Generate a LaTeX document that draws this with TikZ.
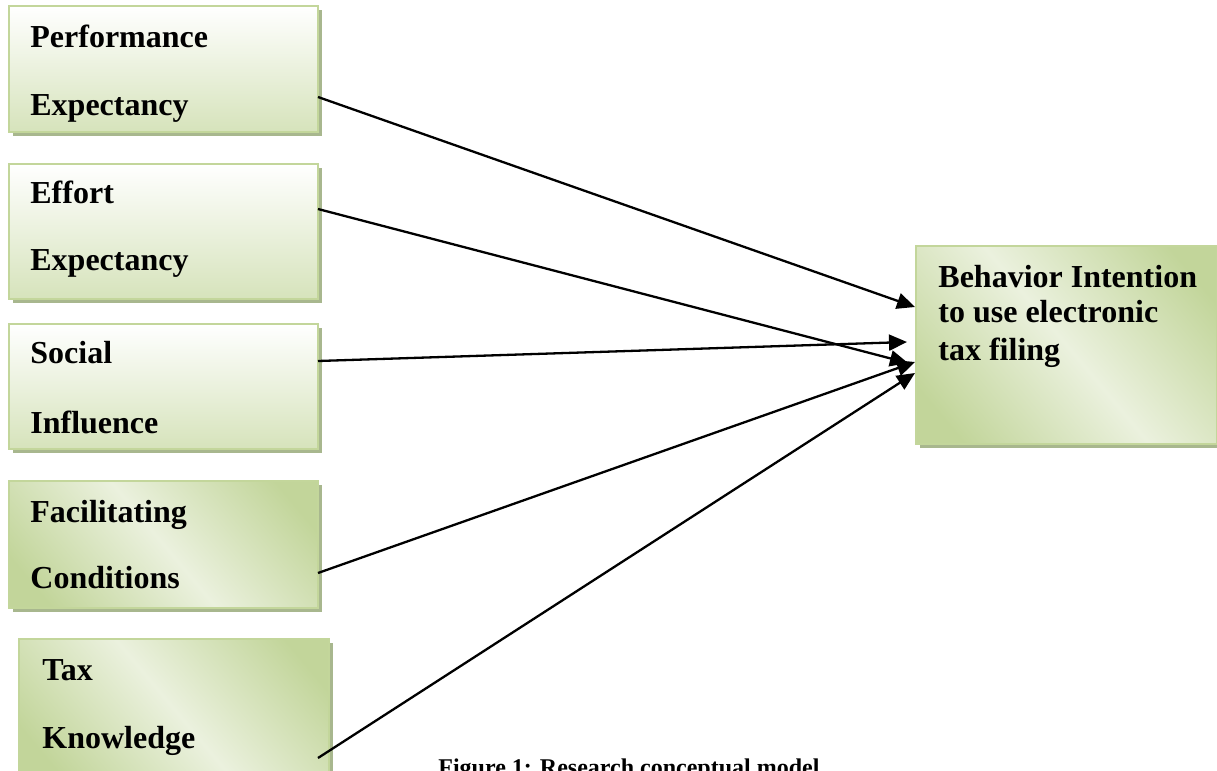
\documentclass[tikz,border=0pt]{standalone}
\usepackage{fontspec}
\setmainfont{Liberation Serif}
\usetikzlibrary{calc,arrows.meta,shadows}
\definecolor{olborder}{HTML}{C3D69B}
\definecolor{olshadow}{HTML}{A8B78E}
\definecolor{olbottom}{HTML}{D6E3BB}
\definecolor{oldark}{HTML}{C2D59A}
\definecolor{ollight}{HTML}{EBF1DE}
\pgfdeclarehorizontalshading{olivediag}{100bp}{color(0bp)=(oldark); color(22bp)=(oldark); color(50bp)=(ollight); color(78bp)=(oldark); color(100bp)=(oldark)}
\tikzset{
  boxbase/.style={draw=olborder, line width=1pt, inner sep=0pt, anchor=north west,
    drop shadow={shadow xshift=2pt, shadow yshift=-2pt, fill=olshadow, opacity=1}},
  boxv/.style={boxbase, top color=white, bottom color=olbottom},
  boxd/.style={boxbase, shading=olivediag, shading angle=40},
  lbl/.style={anchor=base west, inner sep=0pt, font=\bfseries\fontsize{16}{18}\selectfont},
  link/.style={draw=black, line width=1.15pt, -{Triangle[length=9pt,width=8pt]}},
}
\begin{document}
\begin{tikzpicture}[x=0.5pt, y=-0.5pt]
\useasboundingbox (0,0) rectangle (1217,771);
% boxes
\node[boxv, minimum width=154.5pt, minimum height=63pt] (pe) at (8,5) {};
\node[boxv, minimum width=154.5pt, minimum height=67.5pt] (ee) at (8,163) {};
\node[boxv, minimum width=154.5pt, minimum height=62.5pt] (si) at (8,323) {};
\node[boxd, minimum width=154.5pt, minimum height=63.5pt] (fc) at (8,480) {};
\node[boxd, minimum width=155pt, minimum height=70pt] (tk) at (18,638) {};
\node[boxd, minimum width=150.5pt, minimum height=99pt] (bi) at (915,245) {};
% texts
\node[lbl] (pe1) at (30,47) {Performance};
\node[lbl] (pe2) at (30,115) {Expectancy};
\node[lbl] (ee1) at (30,203) {Effort};
\node[lbl] (ee2) at (30,270) {Expectancy};
\node[lbl] (si1) at (30,363) {Social};
\node[lbl] (si2) at (30,433) {Influence};
\node[lbl] (fc1) at (30,522) {Facilitating};
\node[lbl] (fc2) at (30,588) {Conditions};
\node[lbl] (tk1) at (42,680) {Tax};
\node[lbl] (tk2) at (42,748) {Knowledge};
\node[lbl] (bi1) at (938,287) {Behavior Intention};
\node[lbl] (bi2) at (938,322) {to use electronic};
\node[lbl] (bi3) at (938,360) {tax filing};
% connectors
\draw[link] ($(pe.north east)+(-1,92)$) -- ($(bi.north west)+(0,62)$);
\draw[link] ($(ee.north east)+(-1,46)$) -- ($(bi.north west)+(-7,118)$);
\draw[link] ($(si.north east)+(-1,38)$) -- ($(bi.north west)+(-8,97)$);
\draw[link] ($(fc.north east)+(-1,93)$) -- ($(bi.north west)+(0,117)$);
\draw[link] ($(tk.north east)+(-12,120)$) -- ($(bi.north west)+(0,128)$);
% caption (cut by the lower edge, as in the reference)
\node[anchor=base west, inner sep=0pt, font=\bfseries\fontsize{12}{14}\selectfont] (cap) at (438,775) {Figure 1: Research conceptual model};
\end{tikzpicture}
\end{document}
